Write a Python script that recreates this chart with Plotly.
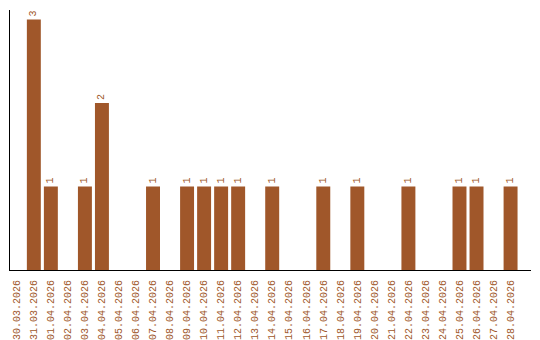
import plotly.graph_objects as go

dates = ["30.03.2026", "31.03.2026", "01.04.2026", "02.04.2026", "03.04.2026",
         "04.04.2026", "05.04.2026", "06.04.2026", "07.04.2026", "08.04.2026",
         "09.04.2026", "10.04.2026", "11.04.2026", "12.04.2026", "13.04.2026",
         "14.04.2026", "15.04.2026", "16.04.2026", "17.04.2026", "18.04.2026",
         "19.04.2026", "20.04.2026", "21.04.2026", "22.04.2026", "23.04.2026",
         "24.04.2026", "25.04.2026", "26.04.2026", "27.04.2026", "28.04.2026"]
counts = [0, 3, 1, 0, 1, 2, 0, 0, 1, 0,
          1, 1, 1, 1, 0, 1, 0, 0, 1, 0,
          1, 0, 0, 1, 0, 0, 1, 1, 0, 1]

color = "#A0572A"
font_family = "Liberation Mono"
labels = [str(v) if v else "" for v in counts]

fig = go.Figure(go.Bar(
    x=list(range(len(dates))), y=counts,
    marker=dict(color=color, line=dict(width=0)),
    text=labels, textposition="outside", textangle=-90,
    textfont=dict(family=font_family, size=10, color=color),
    cliponaxis=False,
))
fig.update_layout(
    width=540, height=340,
    margin=dict(l=10, r=9, t=10, b=70),
    paper_bgcolor="white", plot_bgcolor="white",
    bargap=0.18, showlegend=False,
    xaxis=dict(tickmode="array", tickvals=list(range(len(dates))), ticktext=dates,
               tickangle=-90, range=[-0.4, 30.2], automargin=False,
               ticklabelstandoff=5,
               tickfont=dict(family=font_family, size=10, color=color),
               showline=True, linecolor="black", linewidth=1, ticks="",
               showgrid=False, zeroline=False, fixedrange=True),
    yaxis=dict(range=[0, 3.114], showticklabels=False, showline=True,
               linecolor="black", linewidth=1, ticks="", showgrid=False,
               zeroline=False, automargin=False),
)
fig.write_html("out.html")
